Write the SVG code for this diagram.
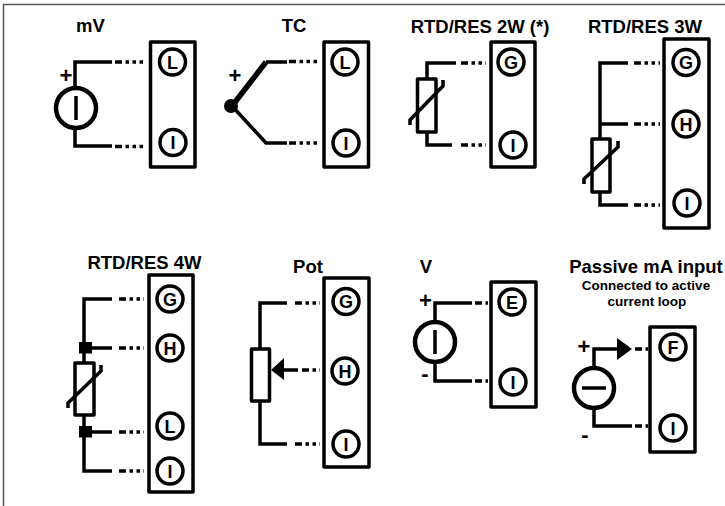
<svg xmlns="http://www.w3.org/2000/svg" width="725" height="506" viewBox="0 0 725 506">
<style>
text{font-family:"Liberation Sans",Arial,sans-serif;font-weight:bold;fill:#000;text-anchor:middle}
.t{font-size:18.500px}
.s{font-size:13.500px}
.l{font-size:18px}
.p{font-size:22px}
.b,.c,.r{fill:#fff;stroke:#000;stroke-linejoin:round;stroke-width:3.500}
.w{fill:none;stroke:#000;stroke-width:3.500;stroke-linejoin:miter}
.d{fill:none;stroke:#000;stroke-width:3.500;stroke-dasharray:7 3.500 3.500 3.500 3.500 3.500 3.500 3.500}
.src{fill:#fff;stroke:#000;stroke-width:4.500}
.bar{stroke:#000;stroke-width:3.500;fill:none}
</style>
<rect width="725" height="506" fill="#fff"/>
<path d="M725,4.500H3.500V506" fill="none" stroke="#555" stroke-width="1.500"/>

<g id="connectors">
<path class="w" d="M112,62H75V146H112"/>
<path class="d" d="M115,62H144M115,146.500H144"/>
<path class="w" d="M232,106L266,143H287M266,62H287"/>
<path fill="none" stroke="#000" stroke-width="5.500" d="M232,106L266,62"/>
<path class="d" d="M289,61.500H318M289,143H318"/>
<path class="w" d="M456,63H427V145H452"/>
<path class="d" d="M461,63H486M461,145H486"/>
<path class="w" d="M628,63H600V205H628M600,124H628"/>
<path class="d" d="M634,63H660M634,124H660M634,205H660"/>
<path class="w" d="M112,299H84V471H112M84,348H112M84,432H112"/>
<path class="d" d="M119,299H144M119,348H144M119,432H144M119,471H144"/>
<path class="w" d="M287,303H260V444H287M284,370H298"/>
<path class="d" d="M295,303H320M302,370H320M295,444H320"/>
<path class="w" d="M472,303H435V381H472"/>
<path class="d" d="M475,303H488M475,381H488"/>
<path class="w" d="M617,349H594V426H632"/>
<path class="d" d="M635,349H648M635,426H648"/>
</g>

<g id="mV"><text class="t" x="90.500" y="32">mV</text>
<text class="p" x="66" y="83">+</text>
<circle class="src" cx="76" cy="108" r="20"/><path class="bar" d="M76,96V120"/>
<rect class="b" x="150.500" y="42" width="44.500" height="125"/>
<circle class="c" cx="172.500" cy="62" r="13"/><text class="l" x="172.500" y="68.500">L</text>
<circle class="c" cx="173" cy="142.500" r="13"/><text class="l" x="173" y="149">I</text></g>

<g id="TC"><text class="t" x="294" y="32">TC</text>
<text class="p" x="235" y="83">+</text>
<circle cx="231" cy="106" r="7"/>
<rect class="b" x="324" y="42" width="44.500" height="125"/>
<circle class="c" cx="345" cy="62" r="13"/><text class="l" x="345" y="68.500">L</text>
<circle class="c" cx="346" cy="143" r="13"/><text class="l" x="346" y="149.500">I</text></g>

<g id="RTD2W"><text class="t" x="480" y="33">RTD/RES 2W (*)</text>
<rect class="r" x="417.500" y="79" width="18.500" height="53"/>
<path class="bar" d="M410,125V120L443,86V80"/>
<rect class="b" x="491" y="42" width="44" height="125"/>
<circle class="c" cx="511" cy="62" r="13"/><text class="l" x="511" y="68.500">G</text>
<circle class="c" cx="513" cy="145" r="13"/><text class="l" x="513" y="151.500">I</text></g>

<g id="RTD3W"><text class="t" x="645" y="33">RTD/RES 3W</text>
<rect class="r" x="592" y="139" width="18" height="53"/>
<path class="bar" d="M584,184V179L618,147V141"/>
<rect class="b" x="664" y="39" width="45" height="189"/>
<circle class="c" cx="686" cy="62.500" r="13"/><text class="l" x="686" y="69">G</text>
<circle class="c" cx="686" cy="124" r="13"/><text class="l" x="686" y="130.500">H</text>
<circle class="c" cx="687" cy="203" r="13"/><text class="l" x="687" y="209.500">I</text></g>

<g id="RTD4W"><text class="t" x="144.500" y="269">RTD/RES 4W</text>
<rect x="79" y="342" width="13" height="11.500"/>
<rect x="79" y="426" width="13" height="11.500"/>
<rect class="r" x="75" y="363" width="19" height="52"/>
<path class="bar" d="M68,408V403L101,371V365"/>
<rect class="b" x="149" y="275" width="44" height="217"/>
<circle class="c" cx="170" cy="299" r="13"/><text class="l" x="170" y="305.500">G</text>
<circle class="c" cx="170" cy="348" r="13"/><text class="l" x="170" y="354.500">H</text>
<circle class="c" cx="170" cy="426" r="13"/><text class="l" x="170" y="432.500">L</text>
<circle class="c" cx="170" cy="471" r="13"/><text class="l" x="170" y="477.500">I</text></g>

<g id="Pot"><text class="t" x="308" y="273">Pot</text>
<rect class="r" x="251.500" y="349" width="18" height="52"/>
<polygon points="271,370 284,358 284,380"/>
<rect class="b" x="324" y="278" width="45" height="189"/>
<circle class="c" cx="346" cy="301.500" r="13"/><text class="l" x="346" y="308">G</text>
<circle class="c" cx="345" cy="371" r="13"/><text class="l" x="345" y="377.500">H</text>
<circle class="c" cx="346" cy="444" r="13"/><text class="l" x="346" y="450.500">I</text></g>

<g id="V"><text class="t" x="426" y="273">V</text>
<text class="p" x="425.500" y="308">+</text>
<text class="p" x="425" y="381">-</text>
<circle class="src" cx="435" cy="342" r="20"/><path class="bar" d="M435,330V354"/>
<rect class="b" x="491" y="282" width="45" height="125"/>
<circle class="c" cx="512" cy="302" r="13"/><text class="l" x="512" y="308.500">E</text>
<circle class="c" cx="513" cy="382" r="13"/><text class="l" x="513" y="388.500">I</text></g>

<g id="PassiveMA"><text class="t" x="646" y="273">Passive mA input</text>
<text class="s" x="646" y="290">Connected to active</text>
<text class="s" x="647" y="306">current loop</text>
<text class="p" x="584" y="354">+</text>
<text class="p" x="585" y="442">-</text>
<polygon points="617,338 632,349 617,360"/>
<circle class="src" cx="594" cy="388" r="20"/><path class="bar" d="M582,388H606"/>
<rect class="b" x="650" y="327" width="45" height="125"/>
<circle class="c" cx="673" cy="347" r="13"/><text class="l" x="673" y="353.500">F</text>
<circle class="c" cx="673" cy="428" r="13"/><text class="l" x="673" y="434.500">I</text></g>
</svg>
